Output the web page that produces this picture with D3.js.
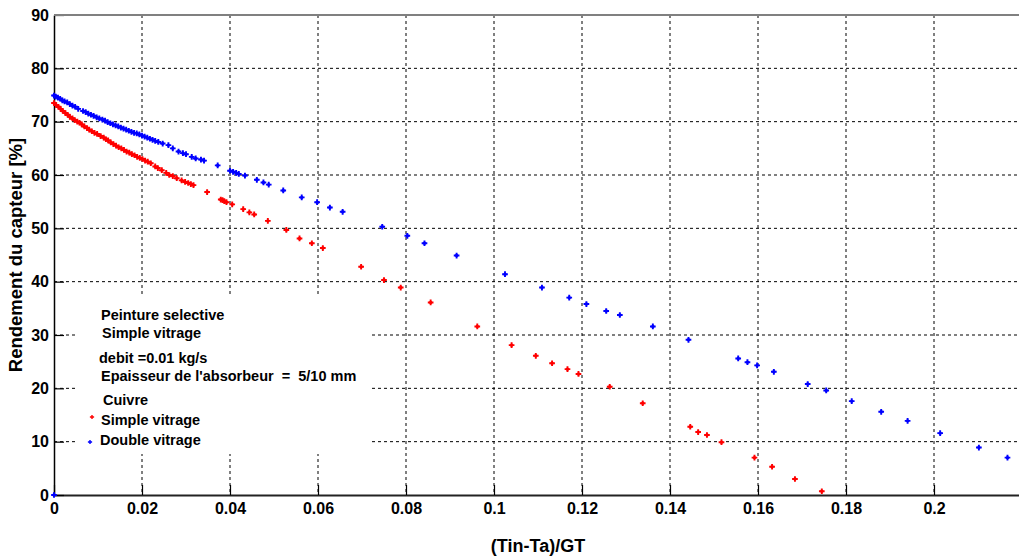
<!DOCTYPE html>
<html><head><meta charset="utf-8">
<script src="https://cdn.jsdelivr.net/npm/d3@7"></script>
<style>
body{margin:0;background:#fff}
svg{display:block}
text{font-family:"Liberation Sans",Arial,sans-serif;font-weight:bold;fill:#000;white-space:pre}
</style>
</head><body>
<svg id="c" width="1019" height="558"></svg>
<script>
// ---- data ----
const xTicks=[0,0.02,0.04,0.06,0.08,0.1,0.12,0.14,0.16,0.18,0.2];
const xTickLabels=["0","0.02","0.04","0.06","0.08","0.1","0.12","0.14","0.16","0.18","0.2"];
const yTicks=[0,10,20,30,40,50,60,70,80,90];
const yTickLabels=["0","10","20","30","40","50","60","70","80","90"];

// Simple vitrage (red)
const simpleX=[0,0.0005,0.001,0.0015,0.002,0.0026,0.0031,0.0036,0.0042,0.0047,0.0053,0.0058,0.0063,0.0069,0.0075,0.008,0.0086,0.0092,0.0098,0.0106,0.0113,0.0118,0.0123,0.0129,0.0135,0.0141,0.0147,0.0153,0.0159,0.0165,0.0171,0.0177,0.0183,0.0189,0.0195,0.0201,0.0207,0.0213,0.022,0.023,0.0236,0.0245,0.0255,0.0262,0.027,0.0279,0.029,0.0298,0.0305,0.0311,0.0317,
0.0348,0.0379,0.0383,0.0387,0.0392,0.0405,0.043,0.0444,0.0455,0.0486,0.0528,0.0558,0.0586,0.0611,0.0698,0.075,0.0788,0.0856,0.0962,0.104,0.1095,0.1132,0.1167,0.1192,0.1263,0.1338,0.1446,0.1464,0.1484,0.1517,0.1592,0.1632,0.1684,0.1745];
const simpleY=[73.5,73.1,72.8,72.4,72.0,71.6,71.3,70.9,70.6,70.3,70.0,69.8,69.5,69.1,68.8,68.5,68.2,67.9,67.7,67.3,67.0,66.7,66.5,66.1,65.8,65.5,65.2,65.0,64.7,64.4,64.2,63.9,63.7,63.4,63.2,63.0,62.7,62.5,62.2,61.6,61.3,60.9,60.4,60.0,59.8,59.4,59.0,58.7,58.5,58.3,58.1,
56.8,55.4,55.3,55.1,54.9,54.5,53.6,53.0,52.6,51.4,49.7,48.1,47.2,46.3,42.8,40.3,38.9,36.1,31.6,28.1,26.1,24.7,23.6,22.7,20.3,17.2,12.8,11.8,11.25,9.9,7.0,5.3,3.0,0.7];

// Double vitrage (blue)
const doubleX=[0,0,0.0004,0.0009,0.0014,0.0019,0.0024,0.003,0.0036,0.0042,0.0048,0.0055,0.0066,0.0072,0.0078,0.0084,0.009,0.0097,0.0103,0.011,0.0116,0.0122,0.0128,0.0134,0.014,0.0146,0.0152,0.0158,0.0164,0.017,0.0176,0.0182,0.0188,0.0194,0.02,0.0206,0.0212,0.0218,0.0224,0.023,0.0237,0.0247,0.026,0.027,0.0283,0.0293,0.03,0.0313,0.0322,0.0334,0.0341,
0.0372,0.04,0.0407,0.0414,0.042,0.0434,0.0461,0.0476,0.0488,0.0521,0.0563,0.0598,0.0627,0.0656,0.0746,0.0803,0.0842,0.0915,0.1025,0.1109,0.1171,0.121,0.1255,0.1286,0.1361,0.1442,0.1555,0.1576,0.1598,0.1636,0.1713,0.1755,0.1813,0.188,0.194,0.2014,0.2102,0.2167];
const doubleY=[0,74.9,74.7,74.5,74.3,74.0,73.8,73.6,73.3,73.0,72.8,72.4,72.0,71.8,71.5,71.3,71.1,70.8,70.6,70.4,70.2,69.9,69.7,69.5,69.3,69.1,68.9,68.7,68.5,68.3,68.1,67.9,67.8,67.6,67.4,67.2,67.0,66.8,66.6,66.4,66.2,65.9,65.6,65.0,64.4,64.1,63.9,63.4,63.1,62.9,62.7,
61.8,60.8,60.6,60.4,60.2,59.9,59.1,58.6,58.2,57.1,55.8,54.9,53.9,53.1,50.3,48.6,47.2,44.9,41.4,38.9,37.0,35.8,34.5,33.75,31.6,29.1,25.6,24.9,24.3,23.1,20.8,19.6,17.6,15.6,13.9,11.6,8.9,7.0];

const noteLines=["Peinture selective","Simple vitrage","debit =0.01 kg/s","Epaisseur de l'absorbeur  =  5/10 mm","Cuivre"];
const legendLabels=["Simple vitrage","Double vitrage"];
const seriesColors=["#ff0000","#0000ff"];
const xTitle="(Tin-Ta)/GT";
const yTitle="Rendement du capteur [%]";

// ---- layout ----
const L=54, T=15, B=495;
const x=d3.scaleLinear().domain([0,0.22]).range([L,L+0.22*4400]);
const y=d3.scaleLinear().domain([0,90]).range([B,T]);
const svg=d3.select("#c");

// grid
const g=svg.append("g");
g.selectAll(".vg").data(xTicks.slice(1)).join("line")
 .attr("x1",d=>x(d)).attr("x2",d=>x(d)).attr("y1",T).attr("y2",B)
 .attr("stroke","#000").attr("stroke-width",1).attr("stroke-dasharray","3,3");
g.selectAll(".hg").data(yTicks.slice(1,-1)).join("line")
 .attr("x1",L).attr("x2",1019).attr("y1",d=>y(d)).attr("y2",d=>y(d))
 .attr("stroke","#000").attr("stroke-width",1).attr("stroke-dasharray","3,3");

// legend / note box background
svg.append("rect").attr("x",78).attr("y",296).attr("width",294).attr("height",158).attr("fill","#fff");

// axes
const xAxis=d3.axisBottom(x).tickValues(xTicks).tickFormat((d,i)=>xTickLabels[i]).tickSizeInner(-10).tickSizeOuter(0).tickPadding(8);
const ax=svg.append("g").attr("transform",`translate(0,${B})`).call(xAxis);
ax.select(".domain").attr("stroke","#222").attr("stroke-width",2);
ax.selectAll(".tick line").attr("stroke","#000").attr("stroke-width",1.2);
ax.selectAll(".tick text").style("font-size","16px").style("font-family","'Liberation Sans',Arial,sans-serif").style("font-weight","bold").attr("fill","#000").attr("dy","0.71em").attr("y",8);

const yAxis=d3.axisLeft(y).tickValues(yTicks).tickFormat((d,i)=>yTickLabels[i]).tickSizeInner(-10).tickSizeOuter(0).tickPadding(5);
const ay=svg.append("g").attr("transform",`translate(${L},0)`).call(yAxis);
ay.select(".domain").attr("stroke","#000").attr("stroke-width",1.5);
ay.selectAll(".tick line").attr("stroke","#000").attr("stroke-width",1.2);
ay.selectAll(".tick text").style("font-size","16px").style("font-family","'Liberation Sans',Arial,sans-serif").style("font-weight","bold").attr("fill","#000").attr("x",-5);

// top border
svg.append("line").attr("x1",L).attr("x2",1019).attr("y1",T).attr("y2",T).attr("stroke","#808080").attr("stroke-width",2);

// markers
const marker=(sel,color)=>{
  sel.append("path").attr("d",d3.symbol(d3.symbolCross,18)()).attr("fill",color);
  sel.append("circle").attr("r",1.7).attr("fill",color);
};
const series=[[simpleX,simpleY],[doubleX,doubleY]];
series.forEach(([xs,ys],k)=>{
  svg.append("g").selectAll("g").data(xs.map((v,i)=>[v,ys[i]])).join("g")
   .attr("transform",d=>`translate(${x(d[0])},${y(d[1])})`)
   .each(function(){marker(d3.select(this),seriesColors[k]);});
});

// notes
const noteFont="14.5px";
const notePos=[[101,320],[102,338],[99,363],[101,381],[103,405]];
noteLines.forEach((t,i)=>{
  svg.append("text").attr("x",notePos[i][0]).attr("y",notePos[i][1]).attr("xml:space","preserve").style("font-size",noteFont).text(t);
});
// legend
const legPos=[[92,417,101,425],[90,442,100,445]];
legendLabels.forEach((t,i)=>{
  const m=svg.append("g").attr("transform",`translate(${legPos[i][0]},${legPos[i][1]})`);
  m.append("path").attr("d",d3.symbol(d3.symbolCross,10)()).attr("fill",seriesColors[i]);
  svg.append("text").attr("x",legPos[i][2]).attr("y",legPos[i][3]).style("font-size",noteFont).text(t);
});

// titles
svg.append("text").attr("x",538).attr("y",552).attr("text-anchor","middle").style("font-size","18px").text(xTitle);
svg.append("text").attr("transform","translate(22,255) rotate(-90)").attr("text-anchor","middle").style("font-size","18.5px").text(yTitle);
</script>
</body></html>
